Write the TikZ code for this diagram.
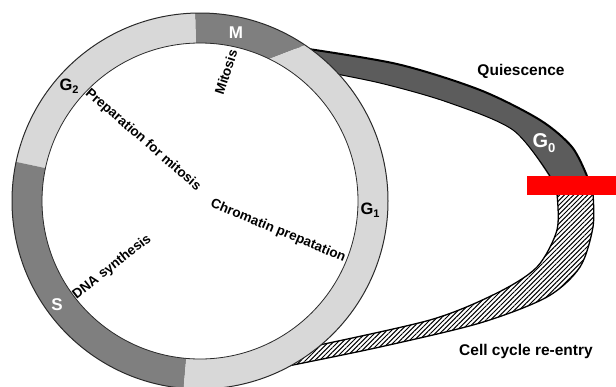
\documentclass[tikz,border=0pt]{standalone}
\usepackage{fontspec}
\setmainfont{Liberation Sans}
\usetikzlibrary{patterns.meta}
\definecolor{lightring}{HTML}{D8D8D8}
\definecolor{darkring}{HTML}{7F7F7F}
\definecolor{gzero}{HTML}{5C5C5C}
\definecolor{ringline}{HTML}{2A2A2A}
\newcommand{\phsub}[1]{\raisebox{-0.4ex}{\fontsize{11}{11}\selectfont #1}}
\begin{document}
\begin{tikzpicture}[x=1pt,y=-1pt,
  smalltxt/.style={font=\fontsize{13.5}{14}\selectfont\bfseries, inner sep=0pt},
  labeltxt/.style={font=\fontsize{15.5}{16}\selectfont\bfseries, inner sep=0pt},
  phasetxt/.style={font=\fontsize{17}{18}\selectfont\bfseries, inner sep=0pt},
  edgeline/.style={draw=black, line width=1.3pt},
  hatchfill/.style={pattern={Lines[angle=45,distance=3.3pt,line width=1pt]}, pattern color=black}]
\useasboundingbox (0,0) rectangle (616,386);
\fill[white] (0,0) rectangle (616,386);

% G0 band (quiescence)
\fill[gzero] plot[smooth] coordinates {(295,47) (397,64) (480,90) (540,120) (572,147) (587,178)}
  -- plot[smooth] coordinates {(550,178) (513,130) (447,102) (380,83) (315,70)} -- cycle;
\draw[line width=2pt] plot[smooth] coordinates {(295,47) (397,64) (480,90) (540,120) (572,147) (587,176)};
\draw[line width=1pt] plot[smooth] coordinates {(550,176) (513,130) (447,102) (380,83) (315,70)};

% re-entry band (hatched)
\fill[white] plot[smooth] coordinates {(593,194) (593,227) (580,267) (547,297) (480,323) (380,347) (288,366)}
  -- plot[smooth] coordinates {(305,348) (430,320) (497,293) (537,267) (557,230) (557,194)} -- cycle;
\fill[hatchfill] plot[smooth] coordinates {(593,194) (593,227) (580,267) (547,297) (480,323) (380,347) (288,366)}
  -- plot[smooth] coordinates {(305,348) (430,320) (497,293) (537,267) (557,230) (557,194)} -- cycle;
\draw[edgeline] plot[smooth] coordinates {(593,194) (593,227) (580,267) (547,297) (480,323) (380,347) (288,366)};
\draw[edgeline] plot[smooth] coordinates {(305,348) (430,320) (497,293) (537,267) (557,230) (557,194)};

% red bar
\fill[red] (527,176) rectangle (616,195);

% cell-cycle ring
\begin{scope}[shift={(200,201)}]
  % M
  \fill[darkring] (-56:188) arc[start angle=-56, end angle=-91.5, radius=188]
     -- (-91.5:158) arc[start angle=-91.5, end angle=-64, radius=158] -- cycle;
  % G2
  \fill[lightring] (-91.5:188) arc[start angle=-91.5, end angle=-168, radius=188]
     -- (-168:158) arc[start angle=-168, end angle=-91.5, radius=158] -- cycle;
  % S
  \fill[darkring] (-168:188) arc[start angle=-168, end angle=-265, radius=188]
     -- (-265:158) arc[start angle=-265, end angle=-168, radius=158] -- cycle;
  % G1
  \fill[lightring] (95:188) arc[start angle=95, end angle=-56, radius=188]
     -- (-64:158) arc[start angle=-64, end angle=95, radius=158] -- cycle;
  \draw[ringline, line width=1pt] (0,0) circle[radius=188];
  \draw[ringline, line width=0.8pt] (0,0) circle[radius=158];
\end{scope}

% labels
\node[phasetxt, text=white] (m) at (236,33) {M};
\node[smalltxt, rotate=72] (mit) at (226,72) {Mitosis};
\node[phasetxt, font=\fontsize{16.5}{17}\selectfont\bfseries] (g2) at (69,86) {G\phsub{2}};
\node[smalltxt, rotate=-41] (prep) at (143,140) {Preparation for mitosis};
\node[smalltxt, rotate=-22.5] (chrom) at (278,231) {Chromatin prepatation};
\node[smalltxt, rotate=38] (dna) at (112,267) {DNA synthesis};
\node[phasetxt, text=white] (s) at (57,305) {S};
\node[phasetxt, font=\fontsize{16.5}{17}\selectfont\bfseries] (g1) at (370,210) {G\phsub{1}};
\node[phasetxt, text=white, font=\fontsize{20}{21}\selectfont\bfseries] (g0) at (544,143) {G\raisebox{-0.4ex}{\fontsize{13}{13}\selectfont 0}};
\node[labeltxt] (quies) at (521,71.5) {Quiescence};
\node[labeltxt] (reentry) at (526,351) {Cell cycle re-entry};
\end{tikzpicture}
\end{document}
